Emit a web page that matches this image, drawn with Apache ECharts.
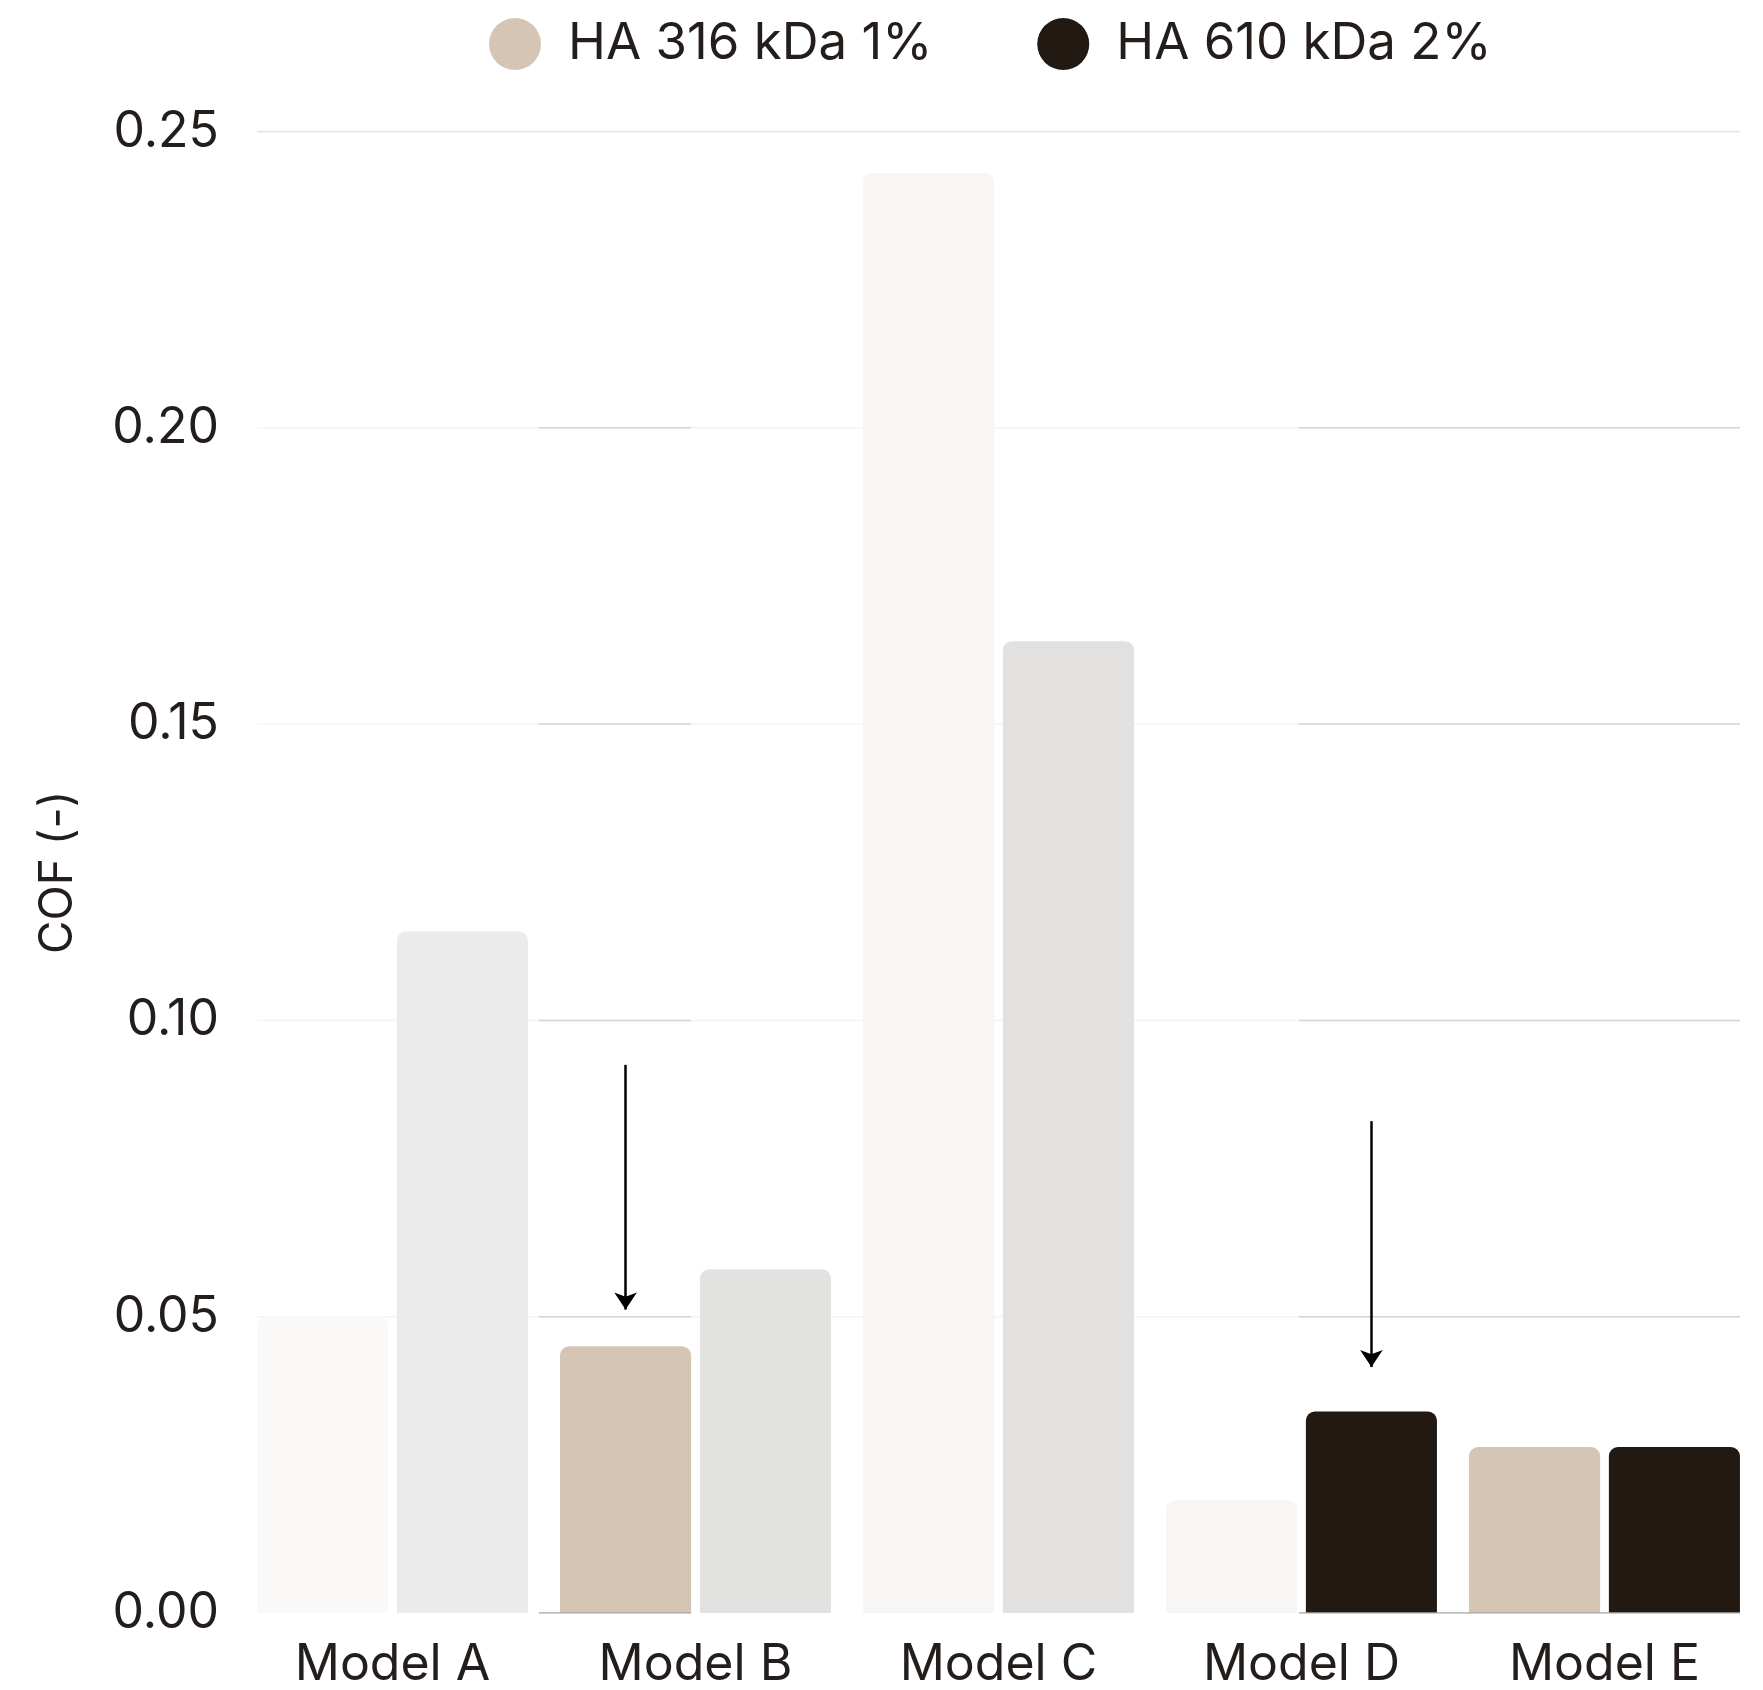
<!DOCTYPE html>
<html>
<head>
<meta charset="utf-8">
<script src="https://cdn.jsdelivr.net/npm/echarts@6/dist/echarts.min.js"></script>
<style>
  html, body { margin: 0; padding: 0; background: #ffffff; }
  #chart { width: 1763px; height: 1690px; }
</style>
</head>
<body>
<div id="chart"></div>
<script>
// ---- data ----
const categories = ['Model A', 'Model B', 'Model C', 'Model D', 'Model E'];
const seriesNames = ['HA 316 kDa 1%', 'HA 610 kDa 2%'];
const ha316 = [0.050, 0.045, 0.243, 0.019, 0.028];
const ha610 = [0.115, 0.058, 0.164, 0.034, 0.028];
const yTicks = [0.00, 0.05, 0.10, 0.15, 0.20, 0.25];
const axisTitle = 'COF (-)';
// bars that keep their full colour; the rest are shown faded
const emphasis316 = [false, true, false, false, true];
const emphasis610 = [false, false, false, true, true];
// downward arrows: series index, category, start value, end value
const arrowSeries = [0, 1];
const arrowCategory = ['Model B', 'Model D'];
const arrowFrom = [0.0925, 0.083];
const arrowTo = [0.0512, 0.0415];

// ---- styling ----
const FONT = 'Inter';
const TEXT = '#231e1b';
const COLOR_316 = '#d5c5b5';
const COLOR_610 = '#221913';
const faded316 = ['#faf9f7', '#f5f3f1', '#f7f6f4', '#f7f6f4', '#f5f3f1'];
const faded610 = ['#ebebeb', '#e2e2e1', '#e2e1e0', '#e2e1e0', '#e2e1e0'];

// horizontal extents of the grid rules, in category-band units (0..5)
const RULE_SPAN = [0.053, 4.947];
const STRONG_SPANS = [[0.983, 1.485], [3.492, 4.947]];

function barData(values, emph, base, faded) {
  return values.map((v, i) => ({
    value: v,
    itemStyle: { color: emph[i] ? base : faded[i] }
  }));
}

function rule(x0, x1, y, color, width, z) {
  return {
    type: 'line',
    xAxisIndex: 1,
    yAxisIndex: 0,
    data: [[x0, y], [x1, y]],
    showSymbol: false,
    symbol: 'none',
    silent: true,
    z: z,
    lineStyle: { color: color, width: width },
    animation: false
  };
}

const ruleSeries = [];
yTicks.forEach((t) => {
  if (t === 0) {
    STRONG_SPANS.forEach(s => ruleSeries.push(rule(s[0], s[1], t, '#a9a9a9', 1.5, 3)));
  } else if (t === yTicks[yTicks.length - 1]) {
    ruleSeries.push(rule(RULE_SPAN[0], RULE_SPAN[1], t, '#e6e6e6', 2, 1));
  } else {
    ruleSeries.push(rule(RULE_SPAN[0], RULE_SPAN[1], t, '#f4f4f3', 1.5, 1));
    STRONG_SPANS.forEach(s => ruleSeries.push(rule(s[0], s[1], t, '#d3d3d3', 1.5, 1)));
  }
});

function arrowsFor(idx) {
  const data = [];
  arrowSeries.forEach((s, k) => {
    if (s === idx) {
      data.push([
        { coord: [arrowCategory[k], arrowFrom[k]] },
        { coord: [arrowCategory[k], arrowTo[k]] }
      ]);
    }
  });
  return {
    silent: true,
    symbol: ['none', 'arrow'],
    symbolSize: [17, 17],
    label: { show: false },
    lineStyle: { color: '#000000', width: 2.5, type: 'solid' },
    emphasis: { disabled: true },
    animation: false,
    data: data
  };
}

const chart = echarts.init(document.getElementById('chart'), null, { renderer: 'canvas' });

const option = {
  backgroundColor: '#ffffff',
  animation: false,
  textStyle: { fontFamily: FONT, color: TEXT },
  legend: {
    data: seriesNames,
    left: 484,
    top: 13,
    icon: 'circle',
    itemWidth: 96,
    itemHeight: 52,
    itemGap: 105,
    textStyle: { fontFamily: FONT, fontSize: 51, color: TEXT }
  },
  grid: { left: 241, right: 7, top: 131.5, bottom: 75.5, containLabel: false },
  xAxis: [
    {
      type: 'category',
      data: categories,
      axisLine: { show: false },
      axisTick: { show: false },
      axisLabel: { fontFamily: FONT, fontSize: 50, color: TEXT, margin: 27 },
      splitLine: { show: false }
    },
    {
      type: 'value',
      min: 0,
      max: 5,
      show: false
    }
  ],
  yAxis: [
    {
      type: 'value',
      min: 0,
      max: 0.25,
      interval: 0.05,
      name: axisTitle,
      nameLocation: 'middle',
      nameRotate: 90,
      nameGap: 160,
      nameTextStyle: { fontFamily: FONT, fontSize: 46, color: TEXT },
      axisLine: { show: false },
      axisTick: { show: false },
      splitLine: { show: false },
      axisLabel: {
        fontFamily: FONT, fontSize: 50, color: TEXT, margin: 22,
        formatter: v => v.toFixed(2)
      }
    }
  ],
  series: [
    {
      name: seriesNames[0],
      type: 'bar',
      xAxisIndex: 0,
      yAxisIndex: 0,
      z: 2,
      barCategoryGap: '10.6%',
      barGap: '6.7%',
      itemStyle: { color: COLOR_316, borderRadius: [9, 9, 0, 0] },
      data: barData(ha316, emphasis316, COLOR_316, faded316),
      markLine: arrowsFor(0)
    },
    {
      name: seriesNames[1],
      type: 'bar',
      xAxisIndex: 0,
      yAxisIndex: 0,
      z: 2,
      barCategoryGap: '10.6%',
      barGap: '6.7%',
      itemStyle: { color: COLOR_610, borderRadius: [9, 9, 0, 0] },
      data: barData(ha610, emphasis610, COLOR_610, faded610),
      markLine: arrowsFor(1)
    }
  ].concat(ruleSeries)
};

chart.setOption(option);
</script>
</body>
</html>
